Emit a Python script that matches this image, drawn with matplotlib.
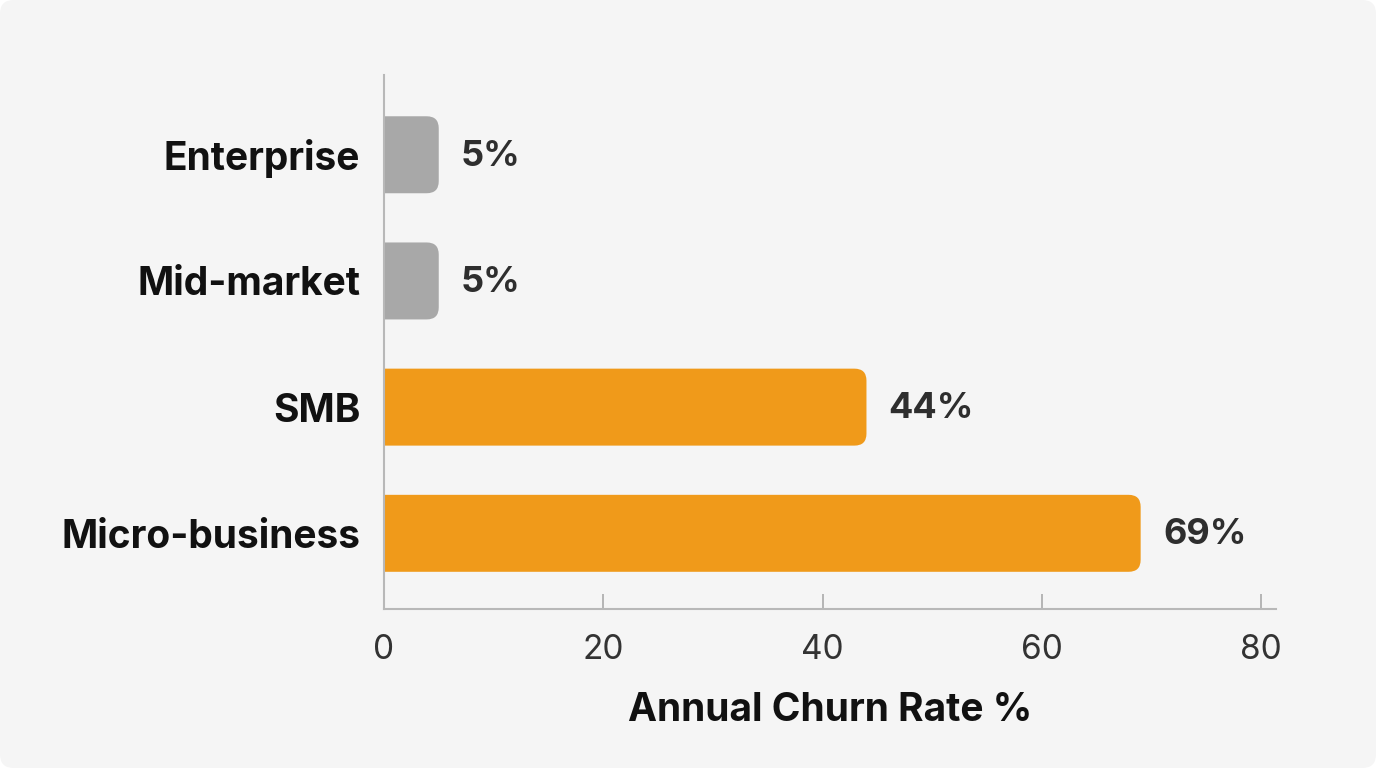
import matplotlib.pyplot as plt
from matplotlib.patches import FancyBboxPatch

segments = ['Micro-business', 'SMB', 'Mid-market', 'Enterprise']
churn = [69, 44, 5, 5]
bar_colors = ['#f09a1a', '#f09a1a', '#a8a8a8', '#a8a8a8']
xticks = [0, 20, 40, 60, 80]

plt.rcParams['font.family'] = ['Inter', 'DejaVu Sans']

fig = plt.figure(figsize=(13.76, 7.68), dpi=100)
fig.patch.set_facecolor('white')
fig.patches.append(FancyBboxPatch((0, 0), 1, 1, boxstyle='round,pad=0,rounding_size=0.01',
                                  transform=fig.transFigure, facecolor='#f5f5f5',
                                  edgecolor='none', mutation_aspect=1376 / 768, zorder=-10))

ax = fig.add_axes([0.279, 0.207, 0.648, 0.695])
ax.set_facecolor('none')
ax.set_xlim(0, 81.3)
ax.set_ylim(-0.6, 3.63)

# rounded bars, radius kept circular in pixels
xpx = 1376 * 0.648 / 81.3
ypx = 768 * 0.695 / 4.23
r = 12 / xpx
h = 0.61
for i, (v, c) in enumerate(zip(churn, bar_colors)):
    p = FancyBboxPatch((-3, i - h / 2), v + 3, h,
                       boxstyle=f'round,pad=0,rounding_size={r}',
                       mutation_aspect=xpx / ypx,
                       facecolor=c, edgecolor='none')
    ax.add_patch(p)
    ax.annotate(f'{v}%', (v, i), xytext=(16, -1), textcoords='offset points',
                ha='left', va='center', fontsize=26, fontweight='bold', color='#2e2e2e')

ax.set_yticks(range(len(segments)))
ax.set_yticklabels(segments, fontsize=28, fontweight='bold', color='#111111')
ax.tick_params(axis='y', length=0, pad=17)
ax.set_xticks(xticks)
ax.tick_params(axis='x', direction='in', length=11, width=1.3, color='#b0b0b0',
               labelsize=24, labelcolor='#333333', pad=18)
ax.set_xlabel('Annual Churn Rate %', fontsize=28, fontweight='bold', color='#111111', labelpad=19)

for s in ['top', 'right']:
    ax.spines[s].set_visible(False)
for s in ['left', 'bottom']:
    ax.spines[s].set_color('#b8b8b8')
    ax.spines[s].set_linewidth(1.5)

plt.savefig('out.png', dpi=100, facecolor=fig.get_facecolor())
